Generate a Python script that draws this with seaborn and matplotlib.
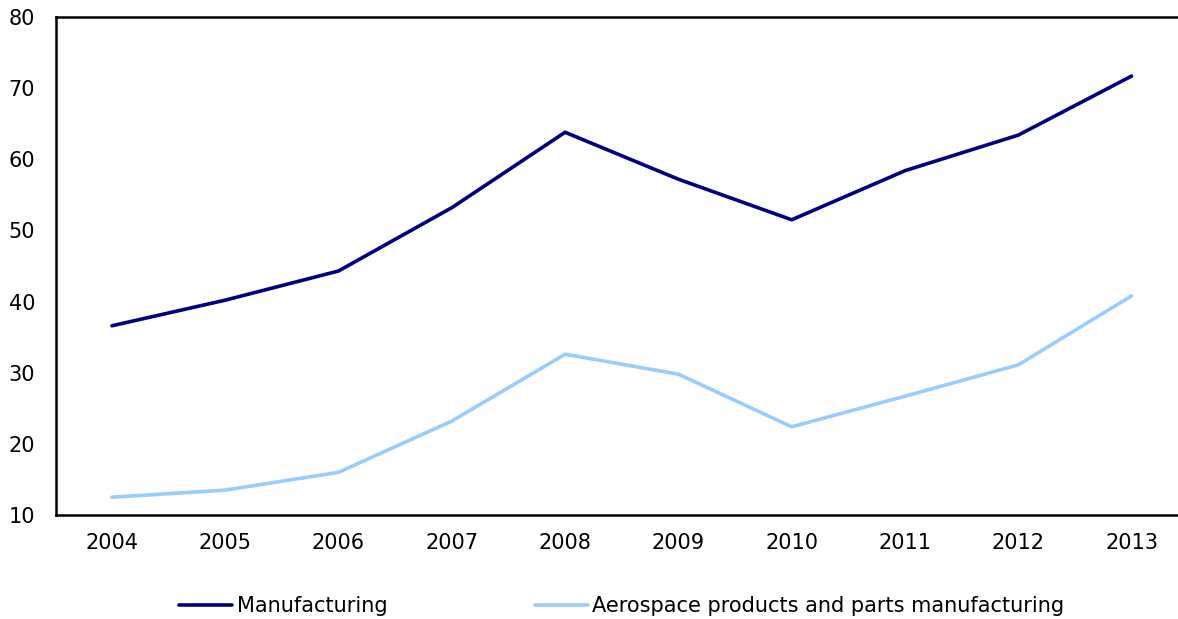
import matplotlib
matplotlib.use("Agg")
import matplotlib.pyplot as plt
import seaborn as sns
import pandas as pd

years = [2004, 2005, 2006, 2007, 2008, 2009, 2010, 2011, 2012, 2013]
manufacturing = [36.6, 40.2, 44.3, 53.2, 63.8, 57.2, 51.5, 58.4, 63.4, 71.7]
aerospace = [12.5, 13.5, 16.0, 23.2, 32.6, 29.8, 22.4, 26.7, 31.1, 40.8]
series_names = ["Manufacturing", "Aerospace products and parts manufacturing"]
colors = ["#000080", "#99CCFF"]

df = pd.DataFrame({
    "year": years * 2,
    "value": manufacturing + aerospace,
    "series": [series_names[0]] * len(years) + [series_names[1]] * len(years),
})

sns.set_style("white")
plt.rcParams["font.family"] = ["DejaVu Sans"]
plt.rcParams["text.color"] = "black"

fig = plt.figure(figsize=(11.78, 6.19), dpi=100)
ax = fig.add_axes([0.0475, 0.168, 0.9525, 0.8045])

sns.lineplot(data=df, x="year", y="value", hue="series", palette=colors,
             linewidth=2.6, ax=ax, legend=False)

ax.set_xlim(2003.506, 2013.41)
ax.set_ylim(10, 80)
ax.set_xticks(years)
ax.set_xticklabels([str(y) for y in years])
ax.set_yticks(range(10, 81, 10))
ax.set_xlabel("")
ax.set_ylabel("")

for s in ["left", "top", "bottom"]:
    ax.spines[s].set_visible(True)
    ax.spines[s].set_color("black")
    ax.spines[s].set_linewidth(1.8)
ax.spines["right"].set_visible(False)

ax.tick_params(axis="y", direction="in", length=6, width=1.5, labelsize=15, pad=15,
               colors="black")
ax.tick_params(axis="x", length=0, labelsize=15, pad=13, colors="black")

handles = [plt.Line2D([], [], color=c, linewidth=2.6) for c in colors]
fig.legend(handles, series_names, loc="center", bbox_to_anchor=(0.528, 0.021),
           ncol=2, frameon=False, fontsize=15, handlelength=2.55,
           handletextpad=0.2, columnspacing=7.1, labelcolor="black")

fig.savefig("out.png", dpi=100)
